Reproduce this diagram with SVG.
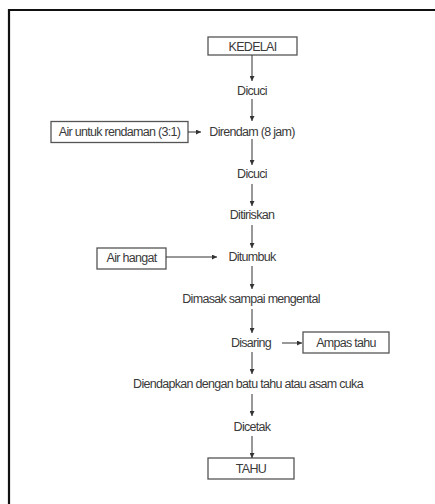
<svg xmlns="http://www.w3.org/2000/svg" width="435" height="504" viewBox="0 0 435 504">
<style>
  text { font-family: "Liberation Sans", Arial, sans-serif; font-size: 12.5px; letter-spacing: -0.7px; fill: #3a3a3a; text-anchor: middle; dominant-baseline: central; }
  .box { fill: #ffffff; stroke: #555555; stroke-width: 1.3; }
  .conn line { stroke: #333333; stroke-width: 1; fill: none; }
  .frame { stroke: #111111; stroke-width: 2.2; fill: none; }
</style>
<defs>
  <marker id="ah" viewBox="0 0 6 6" refX="6" refY="3" markerWidth="5" markerHeight="5" markerUnits="userSpaceOnUse" orient="auto">
    <path d="M0,0 L6,3 L0,6 Z" fill="#333333"/>
  </marker>
</defs>
<rect width="435" height="504" fill="#ffffff"/>
<path class="frame" d="M9,504 L9,10 L435,10"/>

<g id="kedelai"><rect class="box" x="208" y="37" width="89" height="18"/><text x="252.5" y="46.5">KEDELAI</text></g>
<g id="dicuci1"><text x="252" y="91">Dicuci</text></g>
<g id="air-rendaman"><rect class="box" x="51" y="121.5" width="137" height="21"/><text x="119.5" y="132">Air untuk rendaman (3:1)</text></g>
<g id="direndam"><text x="252" y="131.5">Direndam (8 jam)</text></g>
<g id="dicuci2"><text x="252" y="174">Dicuci</text></g>
<g id="ditiriskan"><text x="252" y="215">Ditiriskan</text></g>
<g id="air-hangat"><rect class="box" x="97" y="248" width="69" height="21"/><text x="131.5" y="258">Air hangat</text></g>
<g id="ditumbuk"><text x="252" y="257">Ditumbuk</text></g>
<g id="dimasak"><text x="251" y="299">Dimasak sampai mengental</text></g>
<g id="disaring"><text x="251" y="343">Disaring</text></g>
<g id="ampas"><rect class="box" x="303" y="332" width="86" height="21"/><text x="346" y="342.5">Ampas tahu</text></g>
<g id="diendapkan"><text x="248" y="384">Diendapkan dengan batu tahu atau asam cuka</text></g>
<g id="dicetak"><text x="252" y="427">Dicetak</text></g>
<g id="tahu"><rect class="box" x="208" y="458" width="86" height="21"/><text x="251" y="468.5">TAHU</text></g>

<g id="connectors" class="conn">
  <line x1="252" y1="55" x2="252" y2="81" marker-end="url(#ah)"/>
  <line x1="252" y1="99" x2="252" y2="121" marker-end="url(#ah)"/>
  <line x1="252" y1="139" x2="252" y2="165" marker-end="url(#ah)"/>
  <line x1="252" y1="184" x2="252" y2="206" marker-end="url(#ah)"/>
  <line x1="252" y1="225" x2="252" y2="248" marker-end="url(#ah)"/>
  <line x1="252" y1="266" x2="252" y2="289" marker-end="url(#ah)"/>
  <line x1="252" y1="309" x2="252" y2="333" marker-end="url(#ah)"/>
  <line x1="252" y1="352" x2="252" y2="374" marker-end="url(#ah)"/>
  <line x1="252" y1="394" x2="252" y2="416" marker-end="url(#ah)"/>
  <line x1="252" y1="436" x2="252" y2="458" marker-end="url(#ah)"/>
  <line x1="188" y1="132" x2="201" y2="132" marker-end="url(#ah)"/>
  <line x1="166" y1="257" x2="217" y2="257" marker-end="url(#ah)"/>
  <line x1="282" y1="343" x2="302" y2="343" marker-end="url(#ah)"/>
</g>
</svg>
